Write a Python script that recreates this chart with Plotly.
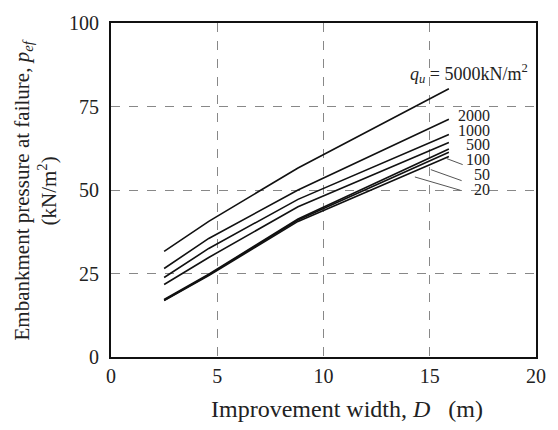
import plotly.graph_objects as go

# Data
D = [2.5, 4.6, 8.8, 15.9]
series = {
    "5000": [31.6, 40.6, 56.6, 80.3],
    "2000": [26.5, 35.5, 50.0, 71.2],
    "1000": [23.8, 32.5, 47.2, 66.6],
    "500":  [21.7, 29.8, 45.0, 64.2],
    "100":  [17.2, 24.8, 41.3, 62.3],
    "50":   [17.0, 24.6, 41.0, 61.3],
    "20":   [16.9, 24.4, 40.6, 60.0],
}
label_text = {
    "5000": "<i>q<sub>u</sub></i> = 5000kN/m<sup>2</sup>",
    "2000": "2000", "1000": "1000", "500": "500",
    "100": "100", "50": "50", "20": "20",
}
label_pos = {
    "5000": (16.85, 84.9), "2000": (17.1, 72.2), "1000": (17.1, 67.9),
    "500": (17.25, 63.5), "100": (17.25, 59.1), "50": (17.45, 54.7), "20": (17.45, 50.3),
}
leaders = {
    "100": [(15.8, 59.4), (16.55, 57.6)],
    "50": [(15.05, 56.1), (16.5, 52.8)],
    "20": [(14.3, 53.9), (16.45, 49.9)],
}
x_ticks = [0, 5, 10, 15, 20]
y_ticks = [0, 25, 50, 75, 100]

FONT = "Liberation Serif"
fig = go.Figure()
for name, vals in series.items():
    fig.add_trace(go.Scatter(x=D, y=vals, mode="lines",
                             line=dict(color="#111111", width=1.6),
                             showlegend=False, hoverinfo="skip"))

for name, (lx, ly) in label_pos.items():
    fig.add_annotation(x=lx, y=ly, text=label_text[name], showarrow=False,
                       font=dict(family=FONT, size=18 if name == "5000" else 16, color="#222"),
                       xanchor="center", yanchor="middle")

for name, pts in leaders.items():
    (x0, y0), (x1, y1) = pts
    fig.add_shape(type="line", x0=x0, y0=y0, x1=x1, y1=y1,
                  line=dict(color="#555", width=1))

fig.update_xaxes(range=[0, 20], tickvals=x_ticks, showgrid=True,
                 gridcolor="#888", griddash="dash", gridwidth=1,
                 showline=True, linecolor="#111", linewidth=2, mirror=True,
                 zeroline=False, ticks="", tickfont=dict(family=FONT, size=20, color="#222"))
fig.update_yaxes(range=[0, 100], tickvals=y_ticks, showgrid=True,
                 gridcolor="#888", griddash="dash", gridwidth=1,
                 showline=True, linecolor="#111", linewidth=2, mirror=True,
                 zeroline=False, ticks="", ticklabelstandoff=6,
                 tickfont=dict(family=FONT, size=20, color="#222"))

fig.add_annotation(xref="paper", yref="paper", x=0.556, y=-0.155,
                   text="Improvement width, <i>D</i>   (m)", showarrow=False,
                   font=dict(family=FONT, size=24, color="#222"),
                   xanchor="center", yanchor="middle")
fig.add_annotation(xref="paper", yref="paper", x=-0.18, y=0.5,
                   text="Embankment pressure at failure, <i>p<sub>ef</sub></i><br>(kN/m<sup>2</sup>)",
                   showarrow=False, textangle=-90,
                   font=dict(family=FONT, size=21, color="#222"),
                   xanchor="center", yanchor="middle")

fig.update_layout(width=558, height=430,
                  margin=dict(l=111, r=17, t=15, b=73),
                  paper_bgcolor="white", plot_bgcolor="white")
fig.write_html("out.html", config={"displayModeBar": False},
               post_script="document.body.style.margin='0';")
